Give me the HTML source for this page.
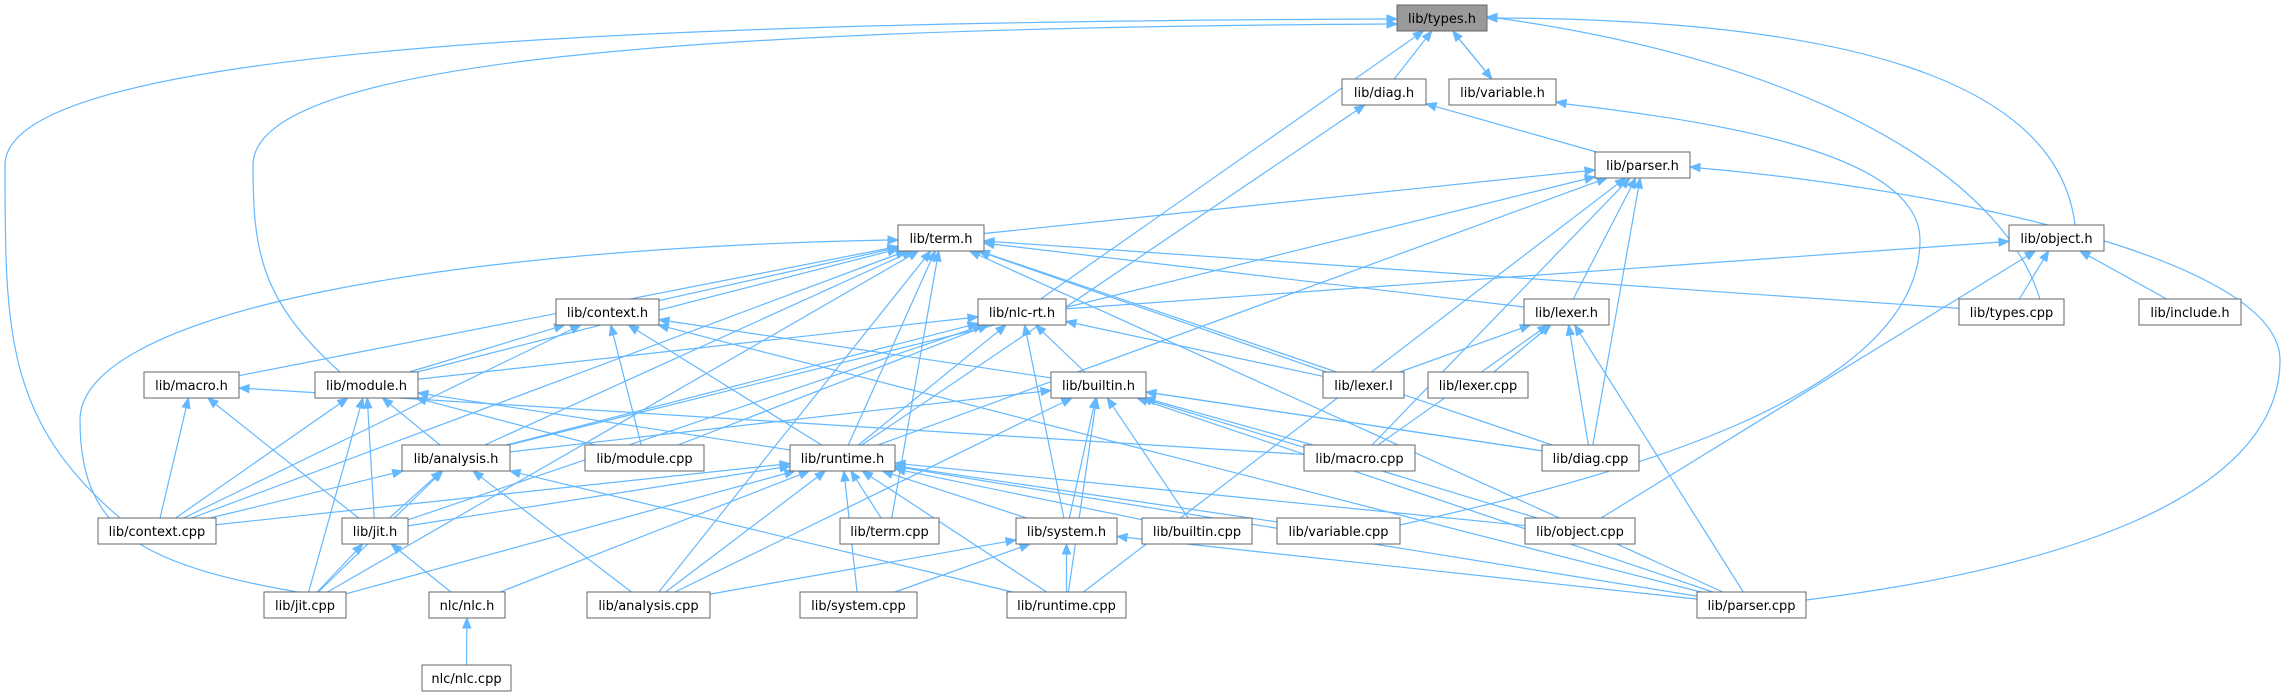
<!DOCTYPE html>
<html><head><meta charset="utf-8"><style>
html,body{margin:0;padding:0;background:#fff;}
svg{display:block;}
text{font-family:"DejaVu Sans","Liberation Sans",sans-serif;font-size:13px;fill:#000;}
</style></head><body>
<svg id="g" width="2284" height="696" viewBox="0 0 2284 696" xmlns="http://www.w3.org/2000/svg">
<g id="edges" fill="none" stroke="#63b8ff" stroke-width="1.2"></g>
<g id="heads" fill="#63b8ff" stroke="#63b8ff"></g>
<g id="nodes">
<rect x="1397" y="5" width="90" height="26" fill="#999" stroke="#666"/><text x="1442" y="23" text-anchor="middle">lib/types.h</text>
<rect x="1342" y="79" width="84" height="26" fill="#fff" stroke="#666"/><text x="1384" y="97" text-anchor="middle">lib/diag.h</text>
<rect x="1449" y="79" width="107" height="26" fill="#fff" stroke="#666"/><text x="1502.5" y="97" text-anchor="middle">lib/variable.h</text>
<rect x="1595" y="152" width="95" height="26" fill="#fff" stroke="#666"/><text x="1642.5" y="170" text-anchor="middle">lib/parser.h</text>
<rect x="898" y="225" width="86" height="26" fill="#fff" stroke="#666"/><text x="941" y="243" text-anchor="middle">lib/term.h</text>
<rect x="2009" y="225" width="95" height="26" fill="#fff" stroke="#666"/><text x="2056.5" y="243" text-anchor="middle">lib/object.h</text>
<rect x="556" y="299" width="103" height="26" fill="#fff" stroke="#666"/><text x="607.5" y="317" text-anchor="middle">lib/context.h</text>
<rect x="978" y="299" width="88" height="26" fill="#fff" stroke="#666"/><text x="1022" y="317" text-anchor="middle">lib/nlc-rt.h</text>
<rect x="1524" y="299" width="85" height="26" fill="#fff" stroke="#666"/><text x="1566.5" y="317" text-anchor="middle">lib/lexer.h</text>
<rect x="1959" y="299" width="105" height="26" fill="#fff" stroke="#666"/><text x="2011.5" y="317" text-anchor="middle">lib/types.cpp</text>
<rect x="2139" y="299" width="102" height="26" fill="#fff" stroke="#666"/><text x="2190" y="317" text-anchor="middle">lib/include.h</text>
<rect x="144" y="372" width="95" height="26" fill="#fff" stroke="#666"/><text x="191.5" y="390" text-anchor="middle">lib/macro.h</text>
<rect x="315" y="372" width="103" height="26" fill="#fff" stroke="#666"/><text x="366.5" y="390" text-anchor="middle">lib/module.h</text>
<rect x="1051" y="372" width="95" height="26" fill="#fff" stroke="#666"/><text x="1098.5" y="390" text-anchor="middle">lib/builtin.h</text>
<rect x="1323" y="372" width="81" height="26" fill="#fff" stroke="#666"/><text x="1363.5" y="390" text-anchor="middle">lib/lexer.l</text>
<rect x="1428" y="372" width="100" height="26" fill="#fff" stroke="#666"/><text x="1478" y="390" text-anchor="middle">lib/lexer.cpp</text>
<rect x="402" y="445" width="108" height="26" fill="#fff" stroke="#666"/><text x="456" y="463" text-anchor="middle">lib/analysis.h</text>
<rect x="585" y="445" width="119" height="26" fill="#fff" stroke="#666"/><text x="644.5" y="463" text-anchor="middle">lib/module.cpp</text>
<rect x="790" y="445" width="105" height="26" fill="#fff" stroke="#666"/><text x="842.5" y="463" text-anchor="middle">lib/runtime.h</text>
<rect x="1304" y="445" width="111" height="26" fill="#fff" stroke="#666"/><text x="1359.5" y="463" text-anchor="middle">lib/macro.cpp</text>
<rect x="1542" y="445" width="97" height="26" fill="#fff" stroke="#666"/><text x="1590.5" y="463" text-anchor="middle">lib/diag.cpp</text>
<rect x="98" y="518" width="118" height="26" fill="#fff" stroke="#666"/><text x="157" y="536" text-anchor="middle">lib/context.cpp</text>
<rect x="342" y="518" width="66" height="26" fill="#fff" stroke="#666"/><text x="375" y="536" text-anchor="middle">lib/jit.h</text>
<rect x="840" y="518" width="99" height="26" fill="#fff" stroke="#666"/><text x="889.5" y="536" text-anchor="middle">lib/term.cpp</text>
<rect x="1016" y="518" width="101" height="26" fill="#fff" stroke="#666"/><text x="1066.5" y="536" text-anchor="middle">lib/system.h</text>
<rect x="1142" y="518" width="110" height="26" fill="#fff" stroke="#666"/><text x="1197" y="536" text-anchor="middle">lib/builtin.cpp</text>
<rect x="1277" y="518" width="123" height="26" fill="#fff" stroke="#666"/><text x="1338.5" y="536" text-anchor="middle">lib/variable.cpp</text>
<rect x="1525" y="518" width="110" height="26" fill="#fff" stroke="#666"/><text x="1580" y="536" text-anchor="middle">lib/object.cpp</text>
<rect x="264" y="592" width="82" height="26" fill="#fff" stroke="#666"/><text x="305" y="610" text-anchor="middle">lib/jit.cpp</text>
<rect x="429" y="592" width="76" height="26" fill="#fff" stroke="#666"/><text x="467" y="610" text-anchor="middle">nlc/nlc.h</text>
<rect x="587" y="592" width="123" height="26" fill="#fff" stroke="#666"/><text x="648.5" y="610" text-anchor="middle">lib/analysis.cpp</text>
<rect x="800" y="592" width="117" height="26" fill="#fff" stroke="#666"/><text x="858.5" y="610" text-anchor="middle">lib/system.cpp</text>
<rect x="1007" y="592" width="119" height="26" fill="#fff" stroke="#666"/><text x="1066.5" y="610" text-anchor="middle">lib/runtime.cpp</text>
<rect x="1697" y="592" width="109" height="26" fill="#fff" stroke="#666"/><text x="1751.5" y="610" text-anchor="middle">lib/parser.cpp</text>
<rect x="422" y="665" width="89" height="26" fill="#fff" stroke="#666"/><text x="466.5" y="683" text-anchor="middle">nlc/nlc.cpp</text>
</g>
</svg>
<script>
var N={
"types.h":[1397,1487,5],"diag.h":[1342,1426,79],"variable.h":[1449,1556,79],"parser.h":[1595,1690,152],
"term.h":[898,984,225],"object.h":[2009,2104,225],"context.h":[556,659,299],"nlc-rt.h":[978,1066,299],
"lexer.h":[1524,1609,299],"types.cpp":[1959,2064,299],"include.h":[2139,2241,299],"macro.h":[144,239,372],
"module.h":[315,418,372],"builtin.h":[1051,1146,372],"lexer.l":[1323,1404,372],"lexer.cpp":[1428,1528,372],
"analysis.h":[402,510,445],"module.cpp":[585,704,445],"runtime.h":[790,895,445],"macro.cpp":[1304,1415,445],
"diag.cpp":[1542,1639,445],"context.cpp":[98,216,518],"jit.h":[342,408,518],"term.cpp":[840,939,518],
"system.h":[1016,1117,518],"builtin.cpp":[1142,1252,518],"variable.cpp":[1277,1400,518],"object.cpp":[1525,1635,518],
"jit.cpp":[264,346,592],"nlc.h":[429,505,592],"analysis.cpp":[587,710,592],"system.cpp":[800,917,592],
"runtime.cpp":[1007,1126,592],"parser.cpp":[1697,1806,592],"nlc.cpp":[422,511,665]};
var E=[
["diag.h","types.h"],["variable.h","types.h"],["types.h","variable.h"],["nlc-rt.h","types.h"],
["parser.h","diag.h"],["runtime.h","diag.h"],
["term.h","parser.h"],["analysis.h","parser.h"],["lexer.h","parser.h"],["macro.cpp","parser.h"],["diag.cpp","parser.h"],["runtime.cpp","parser.h"],["runtime.h","parser.h"],
["nlc-rt.h","object.h"],["types.cpp","object.h"],["include.h","object.h"],["object.cpp","object.h"],
["context.h","term.h"],["module.h","term.h"],["macro.h","term.h"],["analysis.h","term.h"],["context.cpp","term.h"],["jit.cpp","term.h"],["runtime.h","term.h"],["term.cpp","term.h"],["analysis.cpp","term.h"],["lexer.h","term.h"],["lexer.l","term.h"],["types.cpp","term.h"],["diag.cpp","term.h"],["parser.cpp","term.h"],
["lexer.l","lexer.h"],["lexer.cpp","lexer.h"],["macro.cpp","lexer.h"],["diag.cpp","lexer.h"],["parser.cpp","lexer.h"],
["module.h","context.h"],["context.cpp","context.h"],["runtime.h","context.h"],["module.cpp","context.h"],["diag.cpp","context.h"],["parser.cpp","context.h"],
["module.h","nlc-rt.h"],["analysis.h","nlc-rt.h"],["module.cpp","nlc-rt.h"],["runtime.h","nlc-rt.h"],["builtin.h","nlc-rt.h"],["system.h","nlc-rt.h"],["lexer.l","nlc-rt.h"],["jit.h","nlc-rt.h"],
["analysis.h","builtin.h"],["system.h","builtin.h"],["builtin.cpp","builtin.h"],["macro.cpp","builtin.h"],["object.cpp","builtin.h"],["parser.cpp","builtin.h"],["runtime.cpp","builtin.h"],["analysis.cpp","builtin.h"],["diag.cpp","builtin.h"],
["context.cpp","macro.h"],["jit.h","macro.h"],["macro.cpp","macro.h"],
["analysis.h","module.h"],["module.cpp","module.h"],["context.cpp","module.h"],["jit.h","module.h"],["jit.cpp","module.h"],["runtime.h","module.h"],
["context.cpp","analysis.h"],["jit.h","analysis.h"],["jit.cpp","analysis.h"],["analysis.cpp","analysis.h"],["runtime.cpp","analysis.h"],
["context.cpp","runtime.h"],["jit.h","runtime.h"],["jit.cpp","runtime.h"],["nlc.h","runtime.h"],["analysis.cpp","runtime.h"],["system.cpp","runtime.h"],["runtime.cpp","runtime.h"],["term.cpp","runtime.h"],["system.h","runtime.h"],["builtin.cpp","runtime.h"],["variable.cpp","runtime.h"],["object.cpp","runtime.h"],["parser.cpp","runtime.h"],
["analysis.cpp","system.h"],["system.cpp","system.h"],["runtime.cpp","system.h"],["parser.cpp","system.h"],
["jit.cpp","jit.h"],["nlc.h","jit.h"],["nlc.cpp","nlc.h"]
];
var ns="http://www.w3.org/2000/svg",eg=document.getElementById("edges"),hg=document.getElementById("heads");
function C(n){var b=N[n];return [(b[0]+b[1])/2,b[2]+13];}
function clip(n,p){var b=N[n],c=C(n),dx=p[0]-c[0],dy=p[1]-c[1],hw=(b[1]-b[0])/2,hh=13;
 var t=Math.min(dx?hw/Math.abs(dx):1e9,dy?hh/Math.abs(dy):1e9);return [c[0]+dx*t,c[1]+dy*t];}
function head(p,dx,dy){var L=Math.hypot(dx,dy);dx/=L;dy/=L;var a=[p[0]-dx*10-dy*4,p[1]-dy*10+dx*4],b=[p[0]-dx*10+dy*4,p[1]-dy*10-dx*4];
 var e=document.createElementNS(ns,"path");e.setAttribute("d","M"+p+"L"+a+"L"+b+"Z");hg.appendChild(e);}
function path(d){var e=document.createElementNS(ns,"path");e.setAttribute("d",d);eg.appendChild(e);}
E.forEach(function(e){var s=C(e[0]),t=C(e[1]);var a=clip(e[0],t),b=clip(e[1],s);
 var dx=b[0]-a[0],dy=b[1]-a[1],L=Math.hypot(dx,dy);var bb=[b[0]-dx/L*10,b[1]-dy/L*10];
 path("M"+a+"L"+bb);head(b,dx,dy);});
// custom curves
path("M120,518 C5,420 5,330 5,165 C5,50 600,22 1387,19");head([1397,19],1,0);
path("M340,372 C260,300 253,250 253,165 C253,60 700,28 1387,24");head([1397,24],1,0);
path("M2040,299 C2000,170 1800,60 1497,18");head([1487,17],-1,-0.05);
path("M2075,225 C2060,100 1900,20 1497,18");head([1487,18],-1,0);
path("M1806,600 C2050,570 2280,500 2280,360 C2280,260 1950,190 1700,168");head([1690,167],-1,-0.05);
path("M1400,525 C1600,480 1920,400 1920,240 C1920,150 1700,120 1566,104");head([1556,102],-1,-0.15);
path("M346,600 C150,570 80,540 80,420 C80,320 400,250 888,240");head([898,240],1,0);
</script>
</body></html>
